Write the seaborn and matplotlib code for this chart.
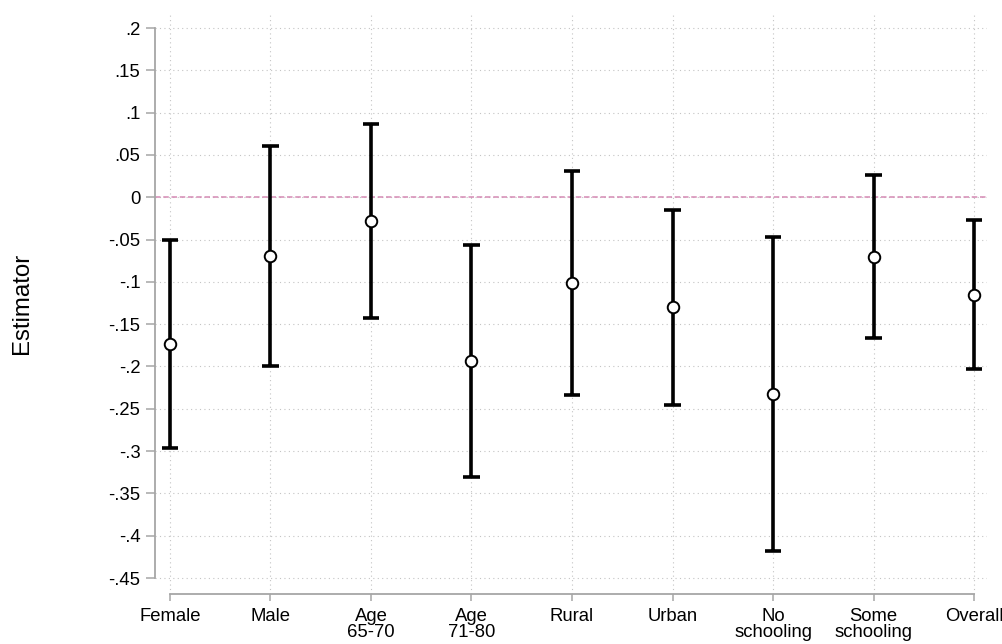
import numpy as np
import pandas as pd
import matplotlib
matplotlib.use("Agg")
import matplotlib.pyplot as plt
import seaborn as sns

# Subgroup point estimates with lower / upper confidence bounds
categories = ["Female", "Male", "Age\n65-70", "Age\n71-80", "Rural", "Urban",
              "No\nschooling", "Some\nschooling", "Overall"]
estimate = [-0.173, -0.069, -0.028, -0.193, -0.101, -0.130, -0.233, -0.070, -0.115]
lower = [-0.296, -0.199, -0.143, -0.331, -0.234, -0.246, -0.418, -0.166, -0.203]
upper = [-0.051, 0.061, 0.087, -0.056, 0.031, -0.015, -0.047, 0.026, -0.027]

ytick_values = [0.2, 0.15, 0.1, 0.05, 0.0, -0.05, -0.1, -0.15, -0.2, -0.25,
                -0.3, -0.35, -0.4, -0.45]
ytick_labels = [".2", ".15", ".1", ".05", "0", "-.05", "-.1", "-.15", "-.2",
                "-.25", "-.3", "-.35", "-.4", "-.45"]

# Long table: for each group the bounds and the estimate; the median gives the
# estimate and the full percentile interval spans lower..upper.
rows = []
for c, lo, est, hi in zip(categories, lower, estimate, upper):
    for v in (lo, est, hi):
        rows.append({"group": c, "value": v})
df = pd.DataFrame(rows)

sns.set_theme(style="white")
plt.rcParams["font.family"] = ["Liberation Sans", "DejaVu Sans"]

fig = plt.figure(figsize=(10.03, 6.44), dpi=100)
ax = fig.add_axes([155 / 1003, 1 - 594 / 644, (987 - 155) / 1003, (594 - 13) / 644])

grey = "#a6a6a6"

sns.pointplot(
    data=df, x="group", y="value", order=categories,
    estimator="median", errorbar=("pi", 100),
    color="black", linestyle="none", markers="o",
    markersize=8.3, markerfacecolor="white", markeredgecolor="black",
    markeredgewidth=1.4, zorder=4,
    capsize=0.16,
    err_kws={"linewidth": 2.6, "zorder": 3, "color": "black",
             "solid_capstyle": "butt"},
    ax=ax,
)

ax.axhline(0, color="#d58ab4", linewidth=1.1, linestyle=(0, (3.6, 1.8)), zorder=2)

ax.set_xlim(-0.149, 8.129)
ax.set_ylim(-0.4689, 0.2178)
ax.set_yticks(ytick_values)
ax.set_yticklabels(ytick_labels)
ax.set_xticks(range(len(categories)))
ax.set_xticklabels(categories, linespacing=0.9)

ax.grid(True, which="major", axis="both", linestyle=(0, (1, 3)),
        color="#c4c4c4", linewidth=0.8)
ax.set_axisbelow(True)

for side in ("top", "right"):
    ax.spines[side].set_visible(False)
for side in ("left", "bottom"):
    ax.spines[side].set_color(grey)
    ax.spines[side].set_linewidth(1.3)
ax.spines["left"].set_bounds(-0.45, 0.2)
ax.spines["bottom"].set_bounds(0, len(categories) - 1)

ax.tick_params(axis="y", which="major", left=True, length=6.5, width=1.1,
               color=grey, pad=4, labelsize=13.3, labelcolor="black")
ax.tick_params(axis="x", which="major", bottom=True, length=5, width=1.1,
               color=grey, pad=5, labelsize=13.3, labelcolor="black")

ax.set_xlabel("")
ax.set_ylabel("Estimator", fontsize=17.3, color="black")
ax.yaxis.set_label_coords(-0.147, 0.5)

fig.savefig("out.png", dpi=100)
